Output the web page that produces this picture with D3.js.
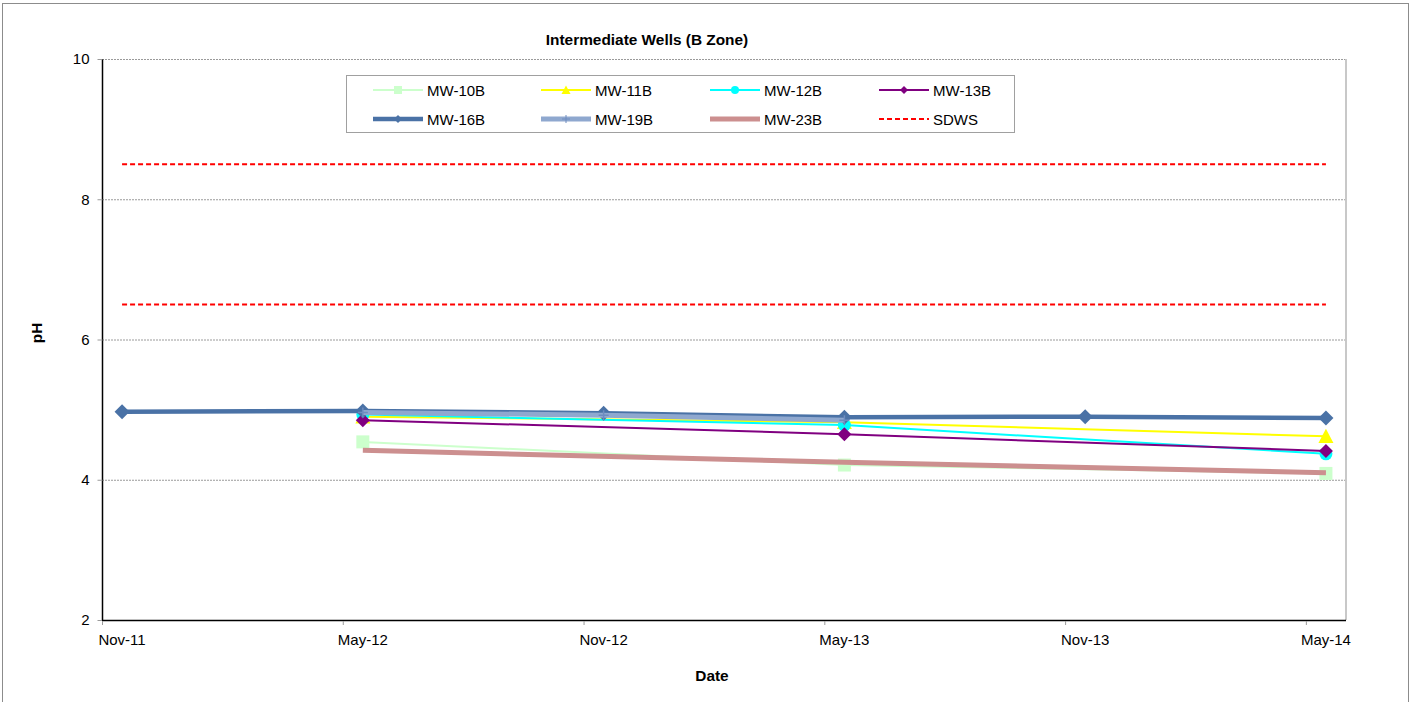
<!DOCTYPE html>
<html>
<head>
<meta charset="utf-8">
<script src="https://cdn.jsdelivr.net/npm/d3@7"></script>
<style>
  html, body { margin: 0; padding: 0; background: #fff; }
  svg { display: block; font-family: "Liberation Sans", Arial, sans-serif; }
</style>
</head>
<body>
<svg id="chart" width="1411" height="702"></svg>
<script>
// Sampling dates (monthly events) and pH readings per well
const sampleDates = ["2011-11-01", "2012-05-01", "2012-11-01", "2013-05-01", "2013-11-01", "2014-05-01"];
const mw10B = [null, 4.54, null, 4.21, null, 4.09];
const mw11B = [null, 4.90, null, 4.82, null, 4.62];
const mw12B = [null, 4.93, null, 4.78, null, 4.37];
const mw13B = [null, 4.85, null, 4.65, null, 4.41];
const mw16B = [4.97, 4.98, 4.95, 4.89, 4.90, 4.88];
const mw19B = [null, 4.96, 4.92, 4.85, null, null];
const mw23B = [null, 4.42, null, 4.25, null, 4.10];
// Secondary drinking water standard range for pH
const sdwsUpper = [8.5, null, null, null, null, 8.5];
const sdwsLower = [6.5, null, null, null, null, 6.5];

const yTicks = [2, 4, 6, 8, 10];
const xTickLabels = ["Nov-11", "May-12", "Nov-12", "May-13", "Nov-13", "May-14"];
const xTickMonths = ["2011-11-01", "2012-05-01", "2012-11-01", "2013-05-01", "2013-11-01", "2014-05-01"];

const parse = d3.timeParse("%Y-%m-%d");
const monthKey = d3.timeFormat("%Y-%m");

const svg = d3.select("#chart");
const plot = { left: 102, right: 1346, top: 59, bottom: 620 };

// Chart area border
svg.append("rect").attr("x", 2.5).attr("y", 3.5).attr("width", 1406).attr("height", 710)
  .attr("fill", "#fff").attr("stroke", "#8c8c8c").attr("stroke-width", 1);

// Date axis: one slot per month, points in the middle of their month
const months = d3.timeMonth.range(parse("2011-11-01"), parse("2014-06-01")).map(monthKey);
const x = d3.scaleBand().domain(months).range([plot.left, plot.right]).padding(0);
const xc = d => x(monthKey(parse(d))) + x.bandwidth() / 2;
const y = d3.scaleLinear().domain([2, 10]).range([plot.bottom, plot.top]);

// Gridlines
svg.append("g").selectAll("line").data(yTicks.filter(t => t > 2)).join("line")
  .attr("x1", plot.left).attr("x2", plot.right)
  .attr("y1", d => y(d) + 0.5).attr("y2", d => y(d) + 0.5)
  .attr("stroke", "#9a9a9a").attr("stroke-width", 1).attr("stroke-dasharray", "2,1");

// Right plot border
svg.append("line").attr("x1", plot.right).attr("x2", plot.right)
  .attr("y1", plot.top).attr("y2", plot.bottom)
  .attr("stroke", "#c8c8c8").attr("stroke-width", 2);

// Y axis
const yAxis = d3.axisLeft(y).tickValues(yTicks).tickSize(5).tickPadding(8).tickFormat(d3.format("d"));
const gy = svg.append("g").attr("transform", `translate(${plot.left + 0.5},0)`).call(yAxis);
gy.select(".domain").attr("stroke", "#000").attr("stroke-width", 1.5).attr("d", `M0,${plot.top}V${plot.bottom}`);
gy.selectAll(".tick line").attr("stroke", "#9a9a9a");
gy.selectAll(".tick text").attr("font-size", "15px").attr("fill", "#000")
  .attr("font-family", "Liberation Sans, Arial, sans-serif");

// X axis: tick marks at month start, labels centred on the month
const gx = svg.append("g");
gx.append("line").attr("x1", plot.left).attr("x2", plot.right)
  .attr("y1", plot.bottom + 0.5).attr("y2", plot.bottom + 0.5)
  .attr("stroke", "#000").attr("stroke-width", 1.5);
gx.selectAll("line.tick").data(xTickMonths).join("line").attr("class", "tick")
  .attr("x1", d => x(monthKey(parse(d))) + 0.5).attr("x2", d => x(monthKey(parse(d))) + 0.5)
  .attr("y1", plot.bottom + 1).attr("y2", plot.bottom + 5)
  .attr("stroke", "#9a9a9a");
gx.selectAll("text").data(xTickMonths).join("text")
  .attr("x", d => xc(d)).attr("y", plot.bottom + 25)
  .attr("text-anchor", "middle").attr("font-size", "15px")
  .text((d, i) => xTickLabels[i]);

// Titles
svg.append("text").attr("x", 647).attr("y", 45).attr("text-anchor", "middle")
  .attr("font-size", "15.4px").attr("font-weight", "bold").text("Intermediate Wells (B Zone)");
svg.append("text").attr("x", 712).attr("y", 681).attr("text-anchor", "middle")
  .attr("font-size", "15.4px").attr("font-weight", "bold").text("Date");
svg.append("text").attr("transform", "translate(42,333) rotate(-90)").attr("text-anchor", "middle")
  .attr("font-size", "15.4px").attr("font-weight", "bold").text("pH");

// Marker shapes
function markerPath(type, s) {
  const h = s / 2;
  switch (type) {
    case "square": return `M${-h},${-h}H${h}V${h}H${-h}Z`;
    case "triangle": return `M0,${-h}L${h},${h * 0.9}H${-h}Z`;
    case "diamond": return `M0,${-h}L${h},0L0,${h}L${-h},0Z`;
    case "circle": return d3.symbol(d3.symbolCircle, Math.PI * h * h)();
    case "plus": return `M${-h},0H${h}M0,${-h}V${h}`;
    default: return null;
  }
}

const series = [
  { name: "MW-10B", values: mw10B, color: "#ccffcc", width: 2, marker: "square", size: 13 },
  { name: "MW-11B", values: mw11B, color: "#ffff00", width: 2, marker: "triangle", size: 15 },
  { name: "MW-12B", values: mw12B, color: "#00ffff", width: 2, marker: "circle", size: 13 },
  { name: "MW-13B", values: mw13B, color: "#800080", width: 2, marker: "diamond", size: 14 },
  { name: "MW-16B", values: mw16B, color: "#4a72a6", width: 4.5, marker: "diamond", size: 15 },
  { name: "MW-19B", values: mw19B, color: "#8fa8cf", width: 5, marker: "plus", size: 10, markerColor: "#6e8cbf" },
  { name: "MW-23B", values: mw23B, color: "#cc8f8f", width: 5, marker: null },
  { name: "SDWS", values: null, color: "#ff0000", width: 2, marker: null, dash: "5,3" }
];

const line = d3.line()
  .defined(d => d.v != null)
  .x(d => xc(d.date))
  .y(d => y(d.v));

const plotG = svg.append("g");
function drawSeries(s, vals) {
  const pts = sampleDates.map((date, i) => ({ date, v: vals[i] })).filter(d => d.v != null);
  const g = plotG.append("g");
  g.append("path").datum(pts).attr("d", line)
    .attr("fill", "none").attr("stroke", s.color).attr("stroke-width", s.width)
    .attr("stroke-dasharray", s.dash || null);
  if (s.marker) {
    const isPlus = s.marker === "plus";
    g.selectAll("path.m").data(pts).join("path").attr("class", "m")
      .attr("transform", d => `translate(${xc(d.date)},${y(d.v)})`)
      .attr("d", markerPath(s.marker, s.size))
      .attr("fill", isPlus ? "none" : s.color)
      .attr("stroke", isPlus ? (s.markerColor || s.color) : "none")
      .attr("stroke-width", isPlus ? 1.5 : 0);
  }
}
series.forEach(s => {
  if (s.name === "SDWS") {
    drawSeries(s, sdwsUpper);
    drawSeries(s, sdwsLower);
  } else {
    drawSeries(s, s.values);
  }
});

// Legend
const legend = svg.append("g");
legend.append("rect").attr("x", 346.5).attr("y", 75.5).attr("width", 668).attr("height", 57)
  .attr("fill", "#fff").attr("stroke", "#a0a0a0").attr("stroke-width", 1);
const colX = [373, 541, 710, 879];
const rowY = [90, 119];
series.forEach((s, i) => {
  const cx = colX[i % 4], cy = rowY[Math.floor(i / 4)];
  const g = legend.append("g").attr("transform", `translate(${cx},${cy})`);
  g.append("line").attr("x1", 0).attr("x2", 50).attr("y1", 0).attr("y2", 0)
    .attr("stroke", s.color).attr("stroke-width", s.width)
    .attr("stroke-dasharray", s.dash || null);
  if (s.marker) {
    const isPlus = s.marker === "plus";
    g.append("path").attr("transform", "translate(25,0)")
      .attr("d", markerPath(s.marker, s.marker === "triangle" ? 9 : 8))
      .attr("fill", isPlus ? "none" : s.color)
      .attr("stroke", isPlus ? (s.markerColor || s.color) : "none")
      .attr("stroke-width", isPlus ? 1 : 0);
  }
  g.append("text").attr("x", 54).attr("y", 5.5).attr("font-size", "15px").text(s.name);
});
</script>
</body>
</html>
